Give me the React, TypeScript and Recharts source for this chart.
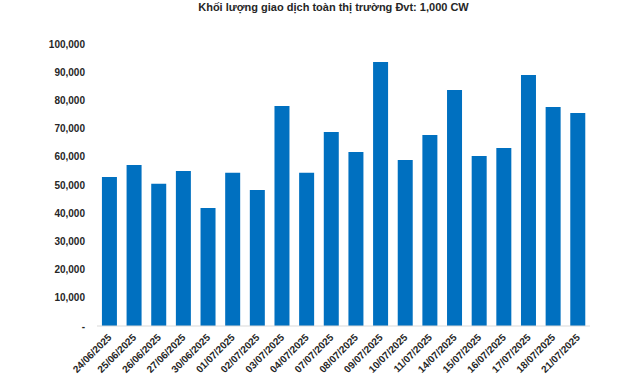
import { Bar, BarChart, XAxis, YAxis } from "recharts";

const dates = [
  "24/06/2025", "25/06/2025", "26/06/2025", "27/06/2025", "30/06/2025",
  "01/07/2025", "02/07/2025", "03/07/2025", "04/07/2025", "07/07/2025",
  "08/07/2025", "09/07/2025", "10/07/2025", "11/07/2025", "14/07/2025",
  "15/07/2025", "16/07/2025", "17/07/2025", "18/07/2025", "21/07/2025",
];

const volumes = [
  52800, 57100, 50400, 55000, 41800, 54300, 48200, 78000, 54300, 68800,
  61700, 93600, 58900, 67700, 83700, 60300, 63100, 89000, 77700, 75500,
];

const yTicks = [0, 10000, 20000, 30000, 40000, 50000, 60000, 70000, 80000, 90000, 100000];

const data = dates.map((d, i) => ({ date: d, volume: volumes[i] }));

const font = "Arial, 'Liberation Sans', sans-serif";

function fmtY(v: number) {
  return v === 0 ? "-" : v.toLocaleString("en-US");
}

function DateTick({ x, y, payload }: any) {
  return (
    <text
      x={x + 3}
      y={y + 4}
      transform={`rotate(-45, ${x + 3}, ${y + 4})`}
      textAnchor="end"
      fontSize={10}
      fontWeight="bold"
      fontFamily={font}
      fill="#262626"
    >
      {payload.value}
    </text>
  );
}

export default function App() {
  return (
    <div style={{ position: "absolute", left: 0, top: 0, width: 640, height: 380, background: "#fff" }}>
      <div
        style={{
          position: "absolute",
          top: 0,
          left: 0,
          width: 667,
          textAlign: "center",
          fontFamily: font,
          fontSize: 11,
          fontWeight: "bold",
          color: "#262626",
          lineHeight: "14px",
        }}
      >
        Khối lượng giao dịch toàn thị trường Đvt: 1,000 CW
      </div>
      <BarChart
        width={640}
        height={380}
        data={data}
        margin={{ top: 44, right: 50, bottom: 0, left: 0 }}
        barCategoryGap="20%"
      >
        <XAxis
          dataKey="date"
          interval={0}
          tickLine={false}
          axisLine={{ stroke: "#d9d9d9" }}
          tick={<DateTick />}
          height={54}
        />
        <YAxis
          width={97}
          domain={[0, 100000]}
          ticks={yTicks}
          tickFormatter={fmtY}
          axisLine={false}
          tickLine={false}
          tickSize={0}
          tickMargin={12}
          tick={{ fontSize: 10, fontWeight: "bold", fontFamily: font, fill: "#262626" }}
        />
        <Bar dataKey="volume" fill="#0070C0" isAnimationActive={false} />
      </BarChart>
    </div>
  );
}
